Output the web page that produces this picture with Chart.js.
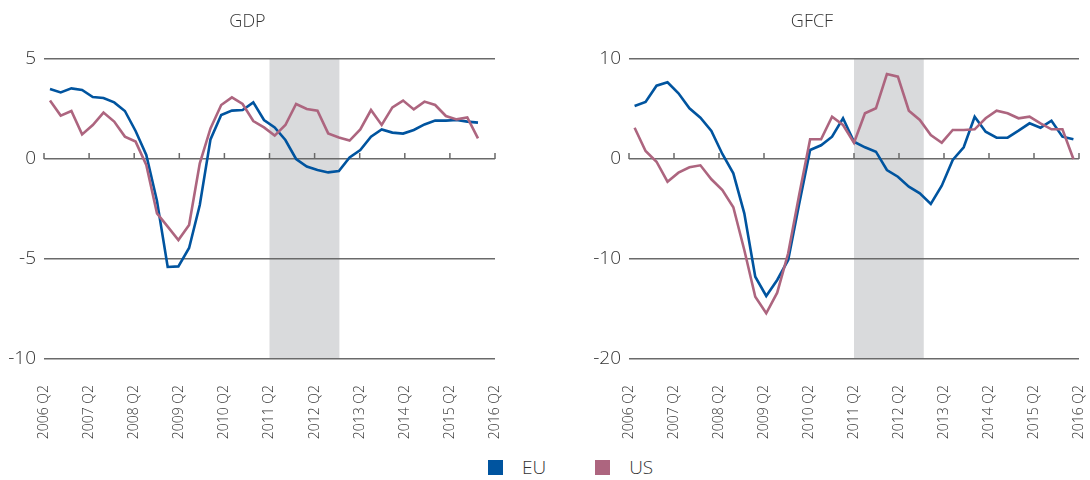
<!DOCTYPE html>
<html>
<head>
<meta charset="utf-8">
<script src="https://cdn.jsdelivr.net/npm/chart.js@4"></script>
<style>
    body { margin: 0; background: #fff; }
    #wrap { position: relative; width: 1090px; height: 480px; font-family: 'Open Sans', sans-serif; }
    .panel { position: absolute; top: 0; width: 545px; height: 440px; }
    #gdpBox { left: 0; }
    #gfcfBox { left: 545px; }
    #legend { position: absolute; left: 488px; top: 454px; display: flex; align-items: center; font-size: 19px; font-weight: 300; color: #333; }
    #legend .item { display: flex; align-items: center; margin-right: 49px; }
    #legend .swatch { width: 15px; height: 15px; margin-right: 19px; }
</style>
</head>
<body>
<div id="wrap">
    <div class="panel" id="gdpBox"><canvas id="gdpChart"></canvas></div>
    <div class="panel" id="gfcfBox"><canvas id="gfcfChart"></canvas></div>
    <div id="legend"></div>
</div>
<script>
// quarters 2006 Q2 .. 2016 Q2
const quarters = [
    '2006 Q2', '2006 Q3', '2006 Q4', '2007 Q1', '2007 Q2', '2007 Q3', '2007 Q4', '2008 Q1',
    '2008 Q2', '2008 Q3', '2008 Q4', '2009 Q1', '2009 Q2', '2009 Q3', '2009 Q4', '2010 Q1',
    '2010 Q2', '2010 Q3', '2010 Q4', '2011 Q1', '2011 Q2', '2011 Q3', '2011 Q4', '2012 Q1',
    '2012 Q2', '2012 Q3', '2012 Q4', '2013 Q1', '2013 Q2', '2013 Q3', '2013 Q4', '2014 Q1',
    '2014 Q2', '2014 Q3', '2014 Q4', '2015 Q1', '2015 Q2', '2015 Q3', '2015 Q4', '2016 Q1',
    '2016 Q2'
];
const tickLabels = ['2006 Q2', '2007 Q2', '2008 Q2', '2009 Q2', '2010 Q2', '2011 Q2',
    '2012 Q2', '2013 Q2', '2014 Q2', '2015 Q2', '2016 Q2'];

const seriesNames = ['EU', 'US'];
const seriesColors = ['#00549f', '#ad657f'];

const gdpEU = [3.5, 3.33, 3.53, 3.45, 3.1, 3.05, 2.83, 2.4, 1.4, 0.2, -2.1, -5.4, -5.37, -4.45, -2.3, 0.98,
    2.2, 2.42, 2.45, 2.83, 1.95, 1.58, 0.95, 0.0, -0.38, -0.55, -0.67, -0.6, 0.08, 0.45, 1.12, 1.48,
    1.32, 1.27, 1.45, 1.73, 1.92, 1.92, 1.95, 1.87, 1.82];
const gdpUS = [2.92, 2.17, 2.4, 1.23, 1.7, 2.32, 1.87, 1.12, 0.87, -0.3, -2.72, -3.38, -4.05, -3.3, -0.22, 1.53,
    2.7, 3.08, 2.75, 1.9, 1.58, 1.17, 1.7, 2.75, 2.5, 2.42, 1.28, 1.08, 0.92, 1.48, 2.45, 1.7,
    2.58, 2.92, 2.48, 2.87, 2.7, 2.15, 1.98, 2.08, 1.03];
const gfcfEU = [5.3, 5.7, 7.33, 7.67, 6.57, 5.07, 4.13, 2.8, 0.5, -1.43, -5.43, -11.77, -13.7, -12.1, -10.1, -4.5,
    0.9, 1.37, 2.23, 4.07, 1.73, 1.17, 0.73, -1.1, -1.77, -2.77, -3.43, -4.5, -2.67, -0.1, 1.17, 4.23,
    2.73, 2.13, 2.13, 2.83, 3.57, 3.13, 3.83, 2.23, 1.97];
const gfcfUS = [3.13, 0.8, -0.27, -2.27, -1.37, -0.83, -0.63, -2.03, -3.1, -4.83, -9.1, -13.77, -15.43, -13.37, -9.43, -3.6,
    1.97, 1.97, 4.23, 3.4, 1.63, 4.57, 5.07, 8.5, 8.23, 4.83, 3.9, 2.4, 1.63, 2.9, 2.9, 2.97,
    4.07, 4.83, 4.57, 4.07, 4.23, 3.57, 2.97, 2.97, 0.0];

// shaded period, in quarters from 2006 Q2 on the labelled axis
const shadedSpan = [20, 26.2];

const gridColor = '#6a6a6a';
const textColor = '#333333';
Chart.defaults.font.family = "'Open Sans', sans-serif";
Chart.defaults.font.weight = '300';

// grey band + small tick marks on the zero line
const panelDecor = {
    id: 'panelDecor',
    beforeDraw(chart, args, opts) {
        const { ctx, chartArea, scales } = chart;
        const left = scales.xTicks.getPixelForValue(opts.shade[0]);
        const right = scales.xTicks.getPixelForValue(opts.shade[1]);
        ctx.save();
        ctx.fillStyle = '#d9dadc';
        ctx.fillRect(left, chartArea.top, right - left, chartArea.bottom - chartArea.top);
        ctx.restore();
    },
    beforeDatasetsDraw(chart) {
        const { ctx, scales } = chart;
        const y0 = scales.y.getPixelForValue(0);
        ctx.save();
        ctx.strokeStyle = gridColor;
        ctx.lineWidth = 1.5;
        scales.xTicks.ticks.forEach(t => {
            const px = scales.xTicks.getPixelForValue(t.value);
            ctx.beginPath();
            ctx.moveTo(px, y0);
            ctx.lineTo(px, y0 - 6);
            ctx.stroke();
        });
        ctx.restore();
    }
};

function makePanel(canvasId, title, eu, us, yMin, yMax, yStep, yWidth, padRight, dataMin, dataMax) {
    const ctx = document.getElementById(canvasId).getContext('2d');
    const toPoints = arr => arr.map((v, i) => ({ x: i, y: v }));
    return new Chart(ctx, {
        type: 'line',
        data: {
            labels: quarters,
            datasets: [eu, us].map((arr, k) => ({
                label: seriesNames[k],
                data: toPoints(arr),
                borderColor: seriesColors[k],
                borderWidth: 2.6,
                pointRadius: 0,
                tension: 0,
                fill: false,
                order: 1 - k
            }))
        },
        plugins: [panelDecor],
        options: {
            responsive: true,
            maintainAspectRatio: false,
            animation: false,
            layout: { padding: { left: 0, right: padRight, top: 0, bottom: 0 } },
            plugins: {
                legend: { display: false },
                tooltip: { enabled: false },
                title: {
                    display: true,
                    text: title,
                    color: textColor,
                    font: { size: 18, weight: '300' },
                    padding: { top: 11, bottom: 26.4 }
                },
                panelDecor: { shade: shadedSpan }
            },
            scales: {
                x: { type: 'linear', display: false, min: dataMin, max: dataMax },
                xTicks: {
                    type: 'linear',
                    position: 'bottom',
                    min: 0,
                    max: 40,
                    grid: { display: false, drawTicks: false },
                    border: { display: false },
                    ticks: {
                        stepSize: 4,
                        autoSkip: false,
                        minRotation: 90,
                        maxRotation: 90,
                        padding: 26,
                        color: textColor,
                        font: { size: 14 },
                        callback: v => tickLabels[Math.round(v / 4)]
                    },
                    afterFit: s => {
                        s.height = 81;
                        s.paddingLeft = 0;
                        s.paddingRight = 0;
                    }
                },
                y: {
                    min: yMin,
                    max: yMax,
                    grid: { color: gridColor, lineWidth: 1.5, drawTicks: false },
                    border: { display: false },
                    ticks: { stepSize: yStep, padding: 8, color: textColor, font: { size: 19 } },
                    afterFit: s => {
                        s.width = yWidth;
                        s.paddingTop = 0;
                        s.paddingBottom = 0;
                    }
                }
            }
        }
    });
}

makePanel('gdpChart', 'GDP', gdpEU, gdpUS, -10, 5, 5, 44, 50, -0.56, 41.59);
makePanel('gfcfChart', 'GFCF', gfcfEU, gfcfUS, -20, 10, 10, 84, 11, -0.51, 40.51);

// legend
const legend = document.getElementById('legend');
seriesNames.forEach((name, k) => {
    legend.insertAdjacentHTML('beforeend',
        `<div class="item"><div class="swatch" style="background:${seriesColors[k]}"></div><span>${name}</span></div>`);
});
</script>
</body>
</html>
